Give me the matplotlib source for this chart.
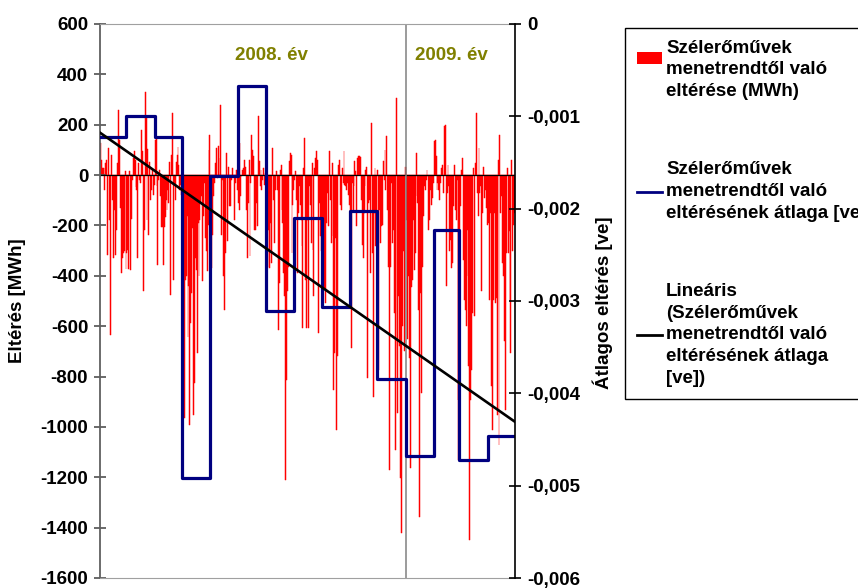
import numpy as np
import matplotlib
matplotlib.use("Agg")
import matplotlib.pyplot as plt
from matplotlib.patches import Patch
from matplotlib.lines import Line2D
from matplotlib.legend_handler import HandlerPatch, HandlerLine2D
from matplotlib.ticker import FuncFormatter

plt.rcParams['font.family'] = ['Liberation Sans', 'DejaVu Sans']
plt.rcParams['font.weight'] = 'bold'

# months shown: 2008 Feb .. 2009 Apr
months = ["2008-02", "2008-03", "2008-04", "2008-05", "2008-06", "2008-07",
          "2008-08", "2008-09", "2008-10", "2008-11", "2008-12",
          "2009-01", "2009-02", "2009-03", "2009-04"]
month_days = [29, 31, 30, 31, 30, 31, 31, 30, 31, 30, 31, 31, 28, 31, 30]

# daily deviation of wind farms from schedule [MWh]
dev_2008_02 = [127, 60, 28, 30, -58, 28, 48, 60, -316, 107, -177, -634, 80, -100, -330,
               -138, -316, -150, -217, 48, 260, 140, -130, -390, -330, -310, -300, 15, -373]
dev_2008_03 = [-310, -296, -373, 15, -375, -176, -18, 68, 94, 60, -46, -58, -330, 48, -18, -32,
               180, 94, -462, -217, 330, 233, -177, 104, -237, 50, -100, -60, 20, -80, -40]
dev_2008_04 = [140, 150, -45, -356, -18, 20, -85, -205, -205, -356, -205, -165, -98, -138, -60,
               -110, 50, -475, 80, 245, -415, -30, -100, 50, 80, 110, 40, -60, -40, -80]
dev_2008_05 = [-548, -720, -965, -416, -402, -164, -641, -442, -992, -588, -469, -211, -952, -826,
               -330, -376, -707, -191, -402, -177, -111, -85, -422, -164, -32, -250, -300, -380,
               -200, 100, 160]
dev_2008_06 = [-640, -369, -237, -85, -30, 48, 107, -12, 114, 68, -5, 280, -237, -18, -400, -535,
               -310, 88, -263, 34, -124, -58, -124, -18, 28, -8, -178, -30, 20, -60]
dev_2008_07 = [-111, -138, 127, -85, -5, 21, 28, 60, 34, -138, -330, -111, 60, -323, -32, 160,
               100, 74, -217, -217, -111, -204, 233, 54, -45, 20, -60, -20, 30, -40, 10]
dev_2008_08 = [-60, -363, -217, -369, -190, -296, -350, 107, -98, -270, -58, 15, -58, -614, -430,
               21, 41, -138, -190, -390, -482, -1210, -813, -462, -363, 54, 88, 80, -310, -120, -60]
dev_2008_09 = [-18, 15, -98, -390, -150, -45, -118, -177, -283, -608, 30, 147, -417, -608, -177,
               -608, -45, -118, -270, 48, -296, -482, 28, 68, 94, 60, -627, -111, -243, -300]
dev_2008_10 = [-495, -204, -170, -455, -508, -190, -71, -204, 94, -98, -270, 48, -243, -853, -707,
               -250, -1011, -720, 41, 60, -118, -138, 28, -32, 94, -38, -45, -58, -30, -80, -120]
dev_2008_11 = [-243, -687, -32, -138, -45, 54, 15, -204, 68, 74, 74, 72, -98, -277, -330, -150,
               -45, 21, 34, -806, -111, -98, -390, 207, -310, -880, -150, 28, -283, -200]
dev_2008_12 = [21, -773, -138, -270, -204, -197, 54, -18, 100, -60, 156, -138, -363, -1170, -363,
               -32, -270, -217, -548, -1091, -733, 306, -945, -482, -680, -1203, -1422, -600,
               -300, -700, 34]
dev_2009_01 = [34, -177, -650, -400, -727, -1164, -443, -415, -177, -376, -310, -85, 88, -111,
               -535, -1356, -470, -866, -363, -164, -45, -58, -18, 21, -5, -217, -177, -60, -120,
               -90, -30]
dev_2009_02 = [134, 140, 74, -58, -32, -58, -98, -32, 28, 41, -71, 193, 200, -442, -71, 41, -45,
               -303, -256, -369, -350, -124, 41, -138, -177, -18, -892, -1130]
dev_2009_03 = [-300, -124, 21, 68, -336, -495, -535, -601, -217, -402, -760, -1448, -892, -773,
               -548, 28, -560, 48, 246, -71, -164, 107, -71, -45, -462, -150, 34, -90, -60, -130,
               -200]
dev_2009_04 = [-190, -18, -495, -150, -839, -1011, -495, -150, -508, -488, -952, 60, -1071, 160,
               -150, -85, -350, -400, -660, -932, -310, 28, -310, -224, -495, -707, 60, -300, -200,
               -150]

# monthly average deviation [ve]
avg_month = [-0.00122, -0.00100, -0.00122, -0.00492, -0.00165, -0.00067, -0.00311, -0.00210,
             -0.00307, -0.00203, -0.00384, -0.00468, -0.00223, -0.00472, -0.00446]

daily = np.concatenate([dev_2008_02, dev_2008_03, dev_2008_04, dev_2008_05, dev_2008_06,
                        dev_2008_07, dev_2008_08, dev_2008_09, dev_2008_10, dev_2008_11,
                        dev_2008_12, dev_2009_01, dev_2009_02, dev_2009_03, dev_2009_04])
ndays = len(daily)
day = np.arange(ndays)
edges = np.concatenate([[0], np.cumsum(month_days)]) - 0.5

# daily series of the monthly average and its linear trend
avg_daily = np.repeat(avg_month, month_days)
fit = np.polyfit(day, avg_daily, 1)
trend_x = np.array([edges[0], edges[-1]])
trend_y = np.polyval(fit, trend_x)

fs = 13.5

fig = plt.figure(figsize=(8.58, 5.88), dpi=100)
ax = fig.add_axes([100/858, 10/588, 415/858, 554/588])

ax.bar(day, daily, width=1.0, color='#ff0000', edgecolor='#ff0000', linewidth=0.35)
ax.axhline(0, color='black', lw=0.9)
ax.axvline(edges[11], color='#808080', lw=1.1)  # 2008 / 2009 boundary

ax.set_xlim(-0.5, ndays - 0.5)
ax.set_ylim(-1600, 600)
ax.set_yticks(range(-1600, 601, 200))
ax.yaxis.set_major_formatter(FuncFormatter(lambda v, p: '%d' % v))
ax.set_xticks([])
ax.tick_params(axis='y', direction='inout', length=9, width=1.2, color='#505050',
               labelsize=fs, pad=4)
ax.spines['left'].set_color('#606060')
ax.spines['left'].set_linewidth(1.3)
ax.spines['top'].set_color('#a0a0a0')
ax.spines['bottom'].set_color('#a0a0a0')
ax.spines['right'].set_visible(False)

ax2 = ax.twinx()
ax2.step(edges, np.append(avg_month, avg_month[-1]), where='post', color='#000080', lw=2.3)
ax2.plot(trend_x, trend_y, color='black', lw=1.9)
ax2.set_ylim(-0.006, 0)
ax2.set_yticks(np.linspace(-0.006, 0, 7))
ax2.yaxis.set_major_formatter(FuncFormatter(
    lambda v, p: '0' if abs(v) < 1e-9 else ('%.3f' % v).replace('.', ',')))
ax2.tick_params(axis='y', direction='inout', length=9, width=1.2, color='black',
                labelsize=fs, pad=4)
for s in ['left', 'top', 'bottom']:
    ax2.spines[s].set_visible(False)
ax2.spines['right'].set_color('black')
ax2.spines['right'].set_linewidth(1.2)

# year labels
olive = '#808000'
ax.text(188, 0.944, '2008. év', transform=ax.get_xaxis_transform(), ha='center', va='center',
        fontsize=fs, color=olive)
ax.text(385, 0.944, '2009. év', transform=ax.get_xaxis_transform(), ha='center', va='center',
        fontsize=fs, color=olive)

fig.text(18/858, 1 - 301/588, 'Eltérés [MWh]', rotation=90, ha='center', va='center',
         fontsize=fs)
fig.text(603/858, 1 - 303/588, 'Átlagos eltérés [ve]', rotation=90, ha='center', va='center',
         fontsize=fs)

# legend, handles sit on the first text line of each entry
h_bar = Patch(facecolor='#ff0000', edgecolor='none')
h_avg = Line2D([], [], color='#000080', lw=2)
h_lin = Line2D([], [], color='black', lw=2)
labels = ["Szélerőművek\nmenetrendtől való\neltérése (MWh)",
          "Szélerőművek\nmenetrendtől való\neltérésének átlaga [ve]",
          "Lineáris\n(Szélerőművek\nmenetrendtől való\neltérésének átlaga\n[ve])"]
line_step = 1.24
hmap = {h_bar: HandlerPatch(ypad=line_step),
        h_avg: HandlerLine2D(ypad=line_step),
        h_lin: HandlerLine2D(ypad=2 * line_step)}
leg = fig.legend([h_bar, h_avg, h_lin], labels, handler_map=hmap, loc='upper left',
                 bbox_to_anchor=(625/858, 1 - 28/588), bbox_transform=fig.transFigure,
                 borderaxespad=0, frameon=True, fancybox=False, edgecolor='black',
                 framealpha=1, fontsize=fs, labelspacing=3.25, handlelength=1.33,
                 handleheight=0.5, handletextpad=0.24, borderpad=0.62)
leg.get_frame().set_linewidth(1.0)
for t in leg.get_texts():
    t.set_linespacing(1.37)

fig.savefig('out.png', dpi=100)
